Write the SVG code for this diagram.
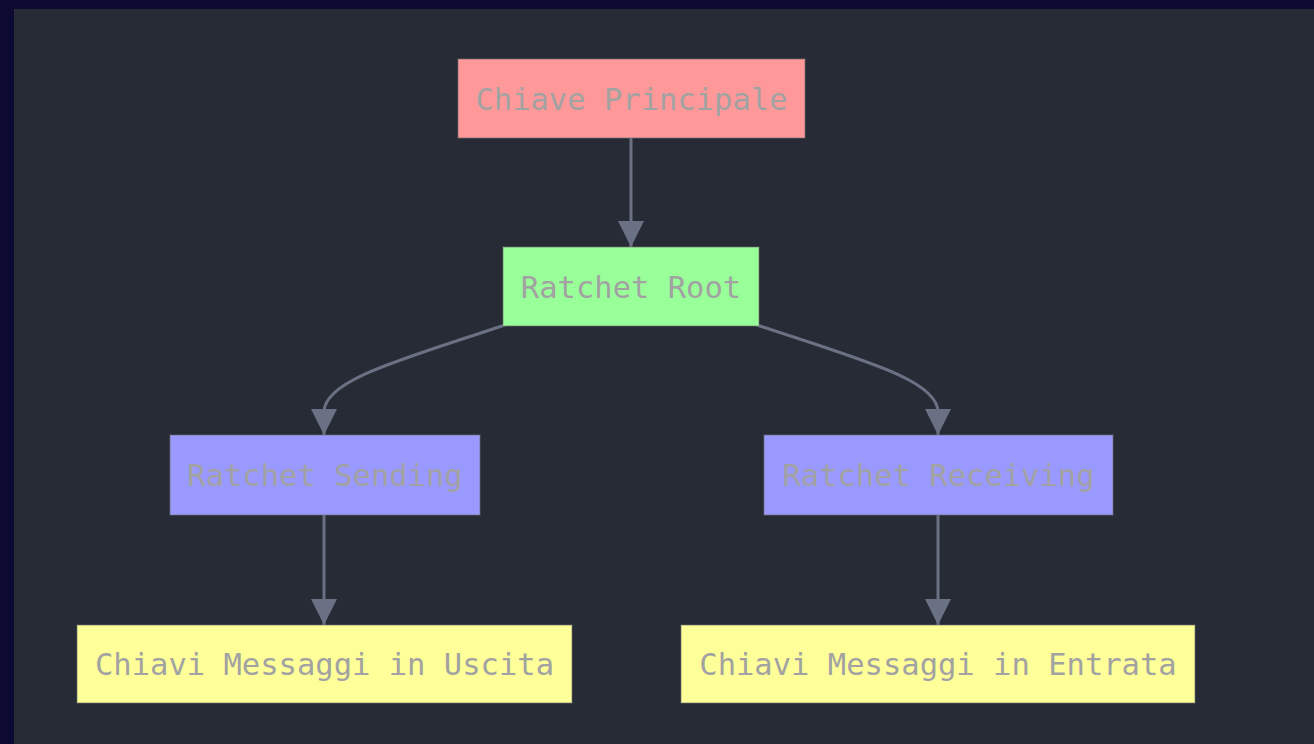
<svg xmlns="http://www.w3.org/2000/svg" width="1314" height="744" viewBox="0 0 1314 744">
  <defs>
    <style>
      .node rect { stroke: #6f6f6f; stroke-opacity: 0.45; stroke-width: 1.5; }
      .node text { font-family: "DejaVu Sans Mono", "Liberation Mono", monospace; font-size: 30.5px; fill: #a2a2a2; text-anchor: middle; dominant-baseline: central; }
      .edge { fill: none; stroke: #6b7185; stroke-width: 3; }
    </style>
    <marker id="arrow" viewBox="0 0 10 10" refX="10" refY="5" markerWidth="9" markerHeight="9" markerUnits="userSpaceOnUse" orient="auto">
      <path d="M0,0 L10,5 L0,10 z" fill="#6b7185"/>
    </marker>
    <marker id="arrowhead" viewBox="0 0 26 26" refX="26" refY="13" markerWidth="26" markerHeight="26" markerUnits="userSpaceOnUse" orient="auto">
      <path d="M0,0 L26,13 L0,26 z" fill="#6b7185"/>
    </marker>
  </defs>

  <!-- page and canvas -->
  <rect x="0" y="0" width="1314" height="744" fill="#0c0a33"/>
  <rect x="14" y="9" width="1300" height="735" fill="#272b35"/>

  <!-- connectors -->
  <g id="edges">
    <path class="edge" d="M631,138 L631,247" marker-end="url(#arrowhead)"/>
    <path class="edge" d="M505,325 C400,360 324,380 324,412 L324,435" marker-end="url(#arrowhead)"/>
    <path class="edge" d="M757,325 C862,360 938,380 938,412 L938,435" marker-end="url(#arrowhead)"/>
    <path class="edge" d="M324,515 L324,625" marker-end="url(#arrowhead)"/>
    <path class="edge" d="M938,515 L938,625" marker-end="url(#arrowhead)"/>
  </g>

  <!-- nodes -->
  <g id="chiave-principale" class="node">
    <rect x="458" y="59" width="347" height="79" fill="#ff9999"/>
    <text x="631.5" y="99">Chiave Principale</text>
  </g>
  <g id="ratchet-root" class="node">
    <rect x="503" y="247" width="256" height="79" fill="#99ff99"/>
    <text x="631" y="287">Ratchet Root</text>
  </g>
  <g id="ratchet-sending" class="node">
    <rect x="170" y="435" width="310" height="80" fill="#9999ff"/>
    <text x="325" y="475">Ratchet Sending</text>
  </g>
  <g id="ratchet-receiving" class="node">
    <rect x="764" y="435" width="349" height="80" fill="#9999ff"/>
    <text x="938.5" y="475">Ratchet Receiving</text>
  </g>
  <g id="chiavi-uscita" class="node">
    <rect x="77" y="625" width="495" height="78" fill="#ffff99"/>
    <text x="324.5" y="664">Chiavi Messaggi in Uscita</text>
  </g>
  <g id="chiavi-entrata" class="node">
    <rect x="681" y="625" width="514" height="78" fill="#ffff99"/>
    <text x="938" y="664">Chiavi Messaggi in Entrata</text>
  </g>
</svg>
